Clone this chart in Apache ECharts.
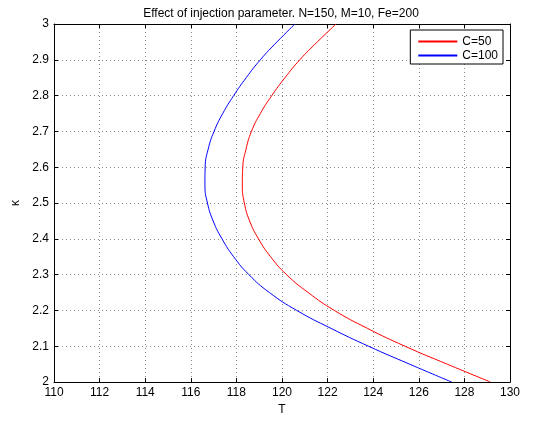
<!DOCTYPE html>
<html>
<head>
<meta charset="utf-8">
<script src="https://cdn.jsdelivr.net/npm/echarts@6/dist/echarts.min.js"></script>
<style>
html, body { margin: 0; padding: 0; background: #fff; }
#main { width: 535px; height: 421px; }
</style>
</head>
<body>
<div id="main"></div>
<script>
// kappa values (y), T values (x)
var kappa = [2.00, 2.05, 2.10, 2.15, 2.20, 2.25, 2.30, 2.35, 2.40, 2.45, 2.50,
             2.55, 2.60, 2.65, 2.70, 2.75, 2.80, 2.85, 2.90, 2.95, 3.00];
var tC50 = [129.15, 127.25, 125.4, 123.75, 122.3, 121.15, 120.2, 119.5, 118.97, 118.58, 118.35,
            118.26, 118.28, 118.42, 118.66, 119.05, 119.55, 120.13, 120.78, 121.55, 122.37];
var tC100 = [127.45, 125.6, 123.8, 122.15, 120.65, 119.45, 118.55, 117.88, 117.37, 116.98, 116.73,
             116.62, 116.63, 116.76, 117.02, 117.4, 117.88, 118.43, 119.05, 119.78, 120.57];
var seriesNames = ['C=50', 'C=100'];

function pairs(ts) {
    return ts.map(function (t, i) { return [t, kappa[i]]; });
}

var font = 'Liberation Sans, Arial, sans-serif';
var chart = echarts.init(document.getElementById('main'));

var gridLine = { show: true, lineStyle: { color: '#8c8c8c', type: [1, 3], width: 1 } };
var tickIn = { show: true, inside: true, length: 4, lineStyle: { color: '#000' } };
var axisLine = { show: true, onZero: false, lineStyle: { color: '#000', width: 1 } };

var option = {
    backgroundColor: '#fff',
    animation: false,
    title: {
        text: 'Effect of injection parameter. N=150, M=10, Fe=200',
        left: 276,
        textAlign: 'center',
        top: 3,
        textStyle: { fontFamily: font, fontSize: 12, fontWeight: 'normal', color: '#000' }
    },
    legend: {
        data: seriesNames,
        orient: 'vertical',
        right: 32,
        top: 30,
        icon: 'rect',
        itemWidth: 39,
        itemHeight: 2,
        itemGap: 1,
        padding: [5, 5, 2, 8],
        backgroundColor: '#fff',
        borderColor: '#000',
        borderWidth: 1,
        borderRadius: 0,
        textStyle: { fontFamily: font, fontSize: 12, color: '#000', lineHeight: 13 }
    },
    grid: { left: 54, right: 25, top: 24, bottom: 37, containLabel: false },
    xAxis: [{
        type: 'value',
        min: 110, max: 130, interval: 2,
        name: 'T',
        nameLocation: 'middle',
        nameGap: 21,
        nameTextStyle: { fontFamily: font, fontSize: 12, color: '#000' },
        axisLine: axisLine,
        axisTick: tickIn,
        axisLabel: { fontFamily: font, fontSize: 12, color: '#000', margin: 5 },
        splitLine: gridLine
    }, {
        type: 'value', position: 'top',
        min: 110, max: 130, interval: 2,
        axisLine: axisLine,
        axisTick: tickIn,
        axisLabel: { show: false },
        splitLine: { show: false }
    }],
    yAxis: [{
        type: 'value',
        min: 2, max: 3, interval: 0.1,
        name: 'κ',
        nameLocation: 'middle',
        nameRotate: 90,
        nameGap: 23,
        nameTextStyle: { fontFamily: font, fontSize: 12, color: '#000' },
        axisLine: axisLine,
        axisTick: tickIn,
        axisLabel: { fontFamily: font, fontSize: 12, color: '#000', margin: 5 },
        splitLine: gridLine
    }, {
        type: 'value', position: 'right',
        min: 2, max: 3, interval: 0.1,
        axisLine: axisLine,
        axisTick: tickIn,
        axisLabel: { show: false },
        splitLine: { show: false }
    }],
    series: [{
        name: seriesNames[0],
        type: 'line',
        data: pairs(tC50),
        smooth: 0.5,
        showSymbol: false,
        color: '#ff0000',
        lineStyle: { width: 1, color: '#ff0000' }
    }, {
        name: seriesNames[1],
        type: 'line',
        data: pairs(tC100),
        smooth: 0.5,
        showSymbol: false,
        color: '#0000ff',
        lineStyle: { width: 1, color: '#0000ff' }
    }]
};
chart.setOption(option);
</script>
</body>
</html>
